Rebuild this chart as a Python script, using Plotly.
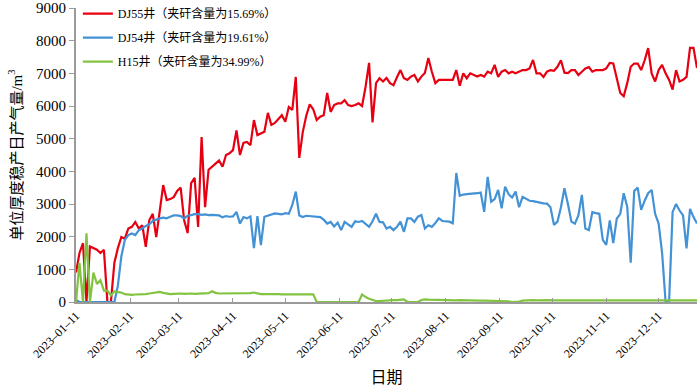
import pandas as pd
import plotly.graph_objects as go

start_date = "2023-01-11"
n_points = 179  # one reading every 2 days

series_names = ["DJ55井（夹矸含量为15.69%）", "DJ54井（夹矸含量为19.61%）", "H15井（夹矸含量为34.99%）"]

dj55 = [
    900, 1500, 1800, 0, 1700, 1650, 1600, 1500, 1600, 0,
    0, 1200, 1650, 1990, 1940, 2250, 2300, 2450, 2250, 2350,
    1690, 2500, 2700, 1990, 2820, 3580, 3120, 3150, 3210, 3400,
    3500, 2500, 2110, 3640, 3800, 2300, 5050, 2900, 4050, 4150,
    4250, 4330, 4140, 4500, 4550, 4650, 5250, 4500, 4870, 4900,
    4800, 5570, 5110, 5170, 5210, 5790, 5420, 5480, 5600, 5720,
    5520, 5970, 5880, 6890, 4410, 5200, 5700, 6050, 5900, 5570,
    5670, 5720, 6400, 5820, 6030, 6080, 6080, 6180, 6030, 6000,
    6030, 6080, 6000, 6590, 7320, 5500, 6700, 6850, 6750, 6860,
    6700, 6640, 6880, 7100, 6850, 6800, 6900, 6950, 6750, 6900,
    7010, 7470, 7050, 6700, 6800, 6800, 6800, 6800, 6800, 7100,
    6620, 7000, 6850, 7000, 6950, 6900, 6950, 6900, 7050, 7000,
    7260, 6890, 7050, 7100, 7000, 7050, 7000, 7050, 7100, 7100,
    7150, 7410, 7000, 7000, 6890, 7050, 7100, 7080, 7200, 7400,
    7020, 7010, 7100, 7100, 6950, 7050, 7150, 7190, 7050, 7100,
    7100, 7100, 7150, 7320, 7300, 6890, 6400, 6300, 6700, 7200,
    7300, 7300, 7100, 7400, 7770, 7000, 6750, 7100, 7260, 7000,
    6800, 6500, 7100, 6750, 6800, 6890, 7780, 7780, 7160,
]

dj54 = [
    60, 0, 0, 0, 0, 0, 0, 0, 0, 0,
    0, 0, 500, 1400, 1900, 2050, 2100, 2050, 2200, 2250,
    2330, 2380, 2480, 2530, 2560, 2580, 2560, 2610, 2650, 2650,
    2630, 2560, 2640, 2660, 2690, 2690, 2670, 2680, 2660, 2670,
    2660, 2650, 2590, 2630, 2610, 2620, 2760, 2400, 2600, 2560,
    2620, 1650, 2630, 1740, 2610, 2640, 2660, 2710, 2700, 2680,
    2720, 2700, 2970, 3380, 2650, 2600, 2640, 2630, 2640, 2620,
    2600, 2520, 2400, 2450, 2310, 2430, 2200, 2450, 2380, 2300,
    2470, 2450, 2480, 2400, 2300, 2470, 2700, 2450, 2440, 2250,
    2300, 2200, 2300, 2460, 2150, 2560, 2560, 2450, 2610, 2660,
    2250, 2350, 2300, 2420, 2560, 2480, 2480, 2460, 2410, 3950,
    3250, 3290, 3300, 3310, 3300, 3330, 3350, 2760, 3830, 3070,
    3150, 3430, 2870, 3530, 3300, 3200, 3380, 2900, 3220, 3150,
    3100, 3090, 3060, 3030, 3020, 3010, 2900, 2360, 2460, 2900,
    3480, 3000, 2460, 2400, 2650, 3280, 2250, 2200, 2750, 2720,
    2700, 1900, 1750, 2500, 1800, 2550, 2700, 3330, 2920, 1200,
    3400, 3500, 2820, 3100, 3330, 3430, 2700, 2400, 1500, 0,
    0, 2750, 3000, 2800, 2650, 1640, 2850, 2600, 2400,
]

h15 = [
    0, 1200, 0, 2100, 0, 900, 550, 670, 350, 350,
    200, 330, 300, 290, 240, 220, 220, 230, 230, 240,
    240, 260, 280, 290, 310, 280, 260, 240, 250, 260,
    260, 250, 260, 260, 250, 260, 260, 270, 270, 330,
    280, 260, 260, 250, 260, 260, 260, 255, 260, 260,
    270, 290, 260, 240, 240, 245, 240, 235, 240, 235,
    235, 240, 240, 235, 235, 240, 240, 235, 235, 0,
    0, 0, 0, 0, 0, 0, 0, 0, 0, 0,
    0, 0, 230, 150, 100, 60, 30, 30, 40, 60,
    50, 60, 60, 60, 80, 0, 0, 0, 0, 60,
    80, 70, 65, 70, 60, 60, 55, 60, 55, 50,
    55, 50, 50, 50, 45, 50, 45, 45, 40, 40,
    40, 35, 40, 30, 20, 0, 0, 10, 40, 50,
    50, 55, 50, 55, 50, 50, 55, 50, 50, 45,
    50, 50, 55, 50, 50, 45, 50, 50, 45, 50,
    50, 50, 45, 50, 50, 50, 45, 50, 50, 50,
    50, 55, 50, 50, 50, 45, 50, 50, 55, 50,
    50, 50, 50, 55, 50, 50, 55, 50, 50,
]

tick_dates = ["2023-01-11", "2023-02-11", "2023-03-11", "2023-04-11", "2023-05-11", "2023-06-11",
              "2023-07-11", "2023-08-11", "2023-09-11", "2023-10-11", "2023-11-11", "2023-12-11"]
y_ticks = [0, 1000, 2000, 3000, 4000, 5000, 6000, 7000, 8000, 9000]

dates = pd.date_range(start_date, periods=n_points, freq="2D")
colors = ["#E60012", "#4392D6", "#82C341"]

fig = go.Figure()
for i, (name, vals) in enumerate(zip(series_names, [dj55, dj54, h15])):
    fig.add_trace(go.Scatter(x=dates, y=vals, mode="lines", name=name,
                             legendgroup=f"g{i}",
                             line=dict(color=colors[i], width=2.2)))

font_family = '"Liberation Serif", "Times New Roman", "Noto Sans CJK SC", serif'
axis_grey = "#9a9a9a"

fig.update_layout(
    width=700, height=387,
    margin=dict(l=76, r=3, t=8, b=85, autoexpand=False),
    plot_bgcolor="white", paper_bgcolor="white",
    font=dict(family=font_family, color="black", size=13),
    showlegend=True,
    legend=dict(x=0.003, y=1.03, xanchor="left", yanchor="top",
                bgcolor="rgba(0,0,0,0)", font=dict(size=12, family=font_family),
                tracegroupgap=5, itemwidth=30),
)
fig.update_xaxes(
    type="date", range=[dates[0], dates[-1]],
    tickvals=tick_dates, tickformat="%Y–%m–%d", tickangle=-45,
    ticks="inside", ticklen=4, tickcolor=axis_grey, tickwidth=1,
    showline=True, linecolor=axis_grey, linewidth=2,
    showgrid=False, zeroline=False,
    tickfont=dict(size=12, family=font_family),
    title=dict(text="日期", font=dict(size=16, family=font_family), standoff=12),
)
fig.update_yaxes(
    range=[0, 9000], tickvals=y_ticks,
    ticks="outside", ticklen=5, tickcolor=axis_grey, tickwidth=1,
    showline=True, linecolor=axis_grey, linewidth=2,
    showgrid=False, zeroline=False,
    tickfont=dict(size=15, family=font_family),
    title=dict(text="单位厚度稳产日产气量/m<sup>3</sup>", font=dict(size=15, family=font_family), standoff=10),
)

fig.write_html("out.html", config={"displayModeBar": False},
               post_script="document.body.style.margin='0';")
